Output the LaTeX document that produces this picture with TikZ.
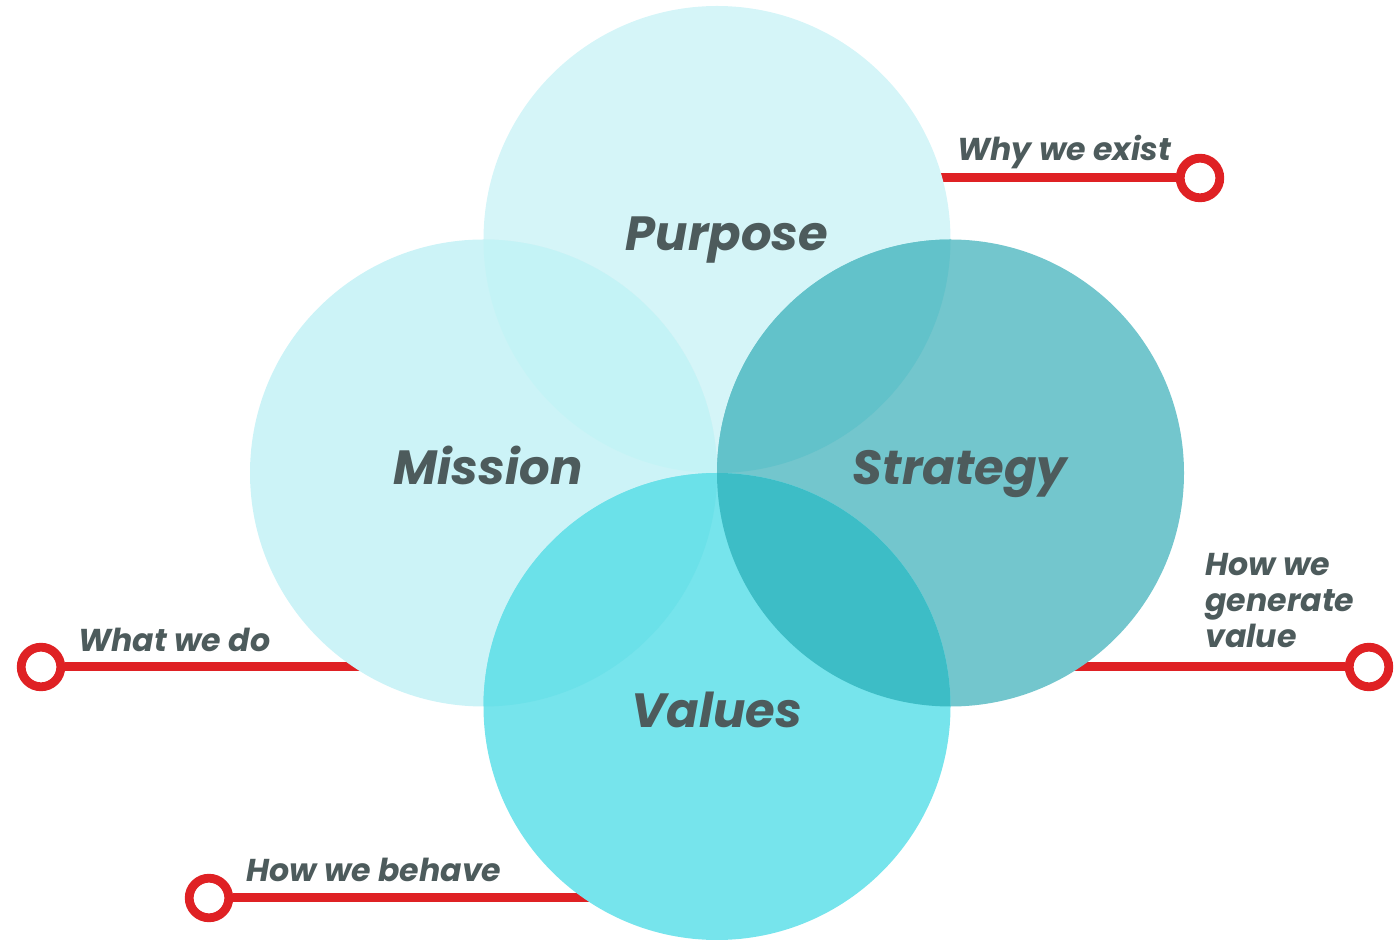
\documentclass[tikz,border=0pt]{standalone}
\usepackage{fontspec}
\setmainfont{Poppins}
\usetikzlibrary{positioning}

\definecolor{purposefill}{HTML}{D5F5F8}
\definecolor{missionfill}{HTML}{CCF3F7}
\definecolor{strategyfill}{HTML}{73C6CD}
\definecolor{valuesfill}{HTML}{76E4EC}
\definecolor{pmfill}{HTML}{C4F3F6}
\definecolor{psfill}{HTML}{62C2CA}
\definecolor{mvfill}{HTML}{6BE1E9}
\definecolor{svfill}{HTML}{3DBDC6}
\definecolor{slate}{HTML}{4D5B5C}
\definecolor{pinred}{HTML}{DF2124}

\begin{document}
\begin{tikzpicture}[x=0.5pt,y=-0.5pt,
				big/.style={font=\fontsize{24}{28}\selectfont\bfseries\itshape,text=slate,anchor=base,inner sep=0pt},
				tag/.style={font=\fontsize{15.8}{18}\selectfont\bfseries\itshape,text=slate,anchor=base west,inner sep=0pt},
				pin/.style={circle,draw=pinred,line width=4.4pt,fill=white,minimum size=19.8pt,inner sep=0pt},
				wire/.style={draw=pinred,line width=4.5pt}]
				\useasboundingbox (0,0) rectangle (1399,940);
				\coordinate (P) at (717,239.5);
				\coordinate (M) at (483.5,473);
				\coordinate (S) at (950.5,473);
				\coordinate (V) at (717,706.5);
				
				% pins with their leads, the circles cover the inner ends
				\node[pin] (WHYPIN)    at (1200,178) {};
				\node[pin] (WHATPIN)   at (41,667)   {};
				\node[pin] (HOWPIN)    at (1369,667) {};
				\node[pin] (BEHAVEPIN) at (209,898)  {};
				\coordinate (WHYEND)    at (900,178);
				\coordinate (WHATEND)   at (420,667);
				\coordinate (HOWEND)    at (1000,667);
				\coordinate (BEHAVEEND) at (650,898);
				\draw[wire] (WHYEND) -- (WHYPIN);
				\draw[wire] (WHATPIN) -- (WHATEND);
				\draw[wire] (HOWEND) -- (HOWPIN);
				\draw[wire] (BEHAVEPIN) -- (BEHAVEEND);
				
				% the four circles
				\fill[purposefill]  (P) circle (116.75pt);
				\fill[missionfill]  (M) circle (116.75pt);
				\fill[strategyfill] (S) circle (116.75pt);
				\fill[valuesfill]   (V) circle (116.75pt);
				% overlaps
				\begin{scope}
					\clip (P) circle (116.75pt);
					\fill[pmfill] (M) circle (116.75pt);
					\fill[psfill] (S) circle (116.75pt);
				\end{scope}
				\begin{scope}
					\clip (V) circle (116.75pt);
					\fill[mvfill] (M) circle (116.75pt);
					\fill[svfill] (S) circle (116.75pt);
				\end{scope}
				
				\node[big] (PURPOSE)  at (727,251) {Purpose};
				\node[big] (MISSION)  at (488,485) {Mission};
				\node[big] (STRATEGY) at (960,485) {Strategy};
				\node[big] (VALUES)   at (717,728) {Values};
				
				\node[tag] (WHY)    at (957,161)  {Why we exist};
				\node[tag] (WHAT)   at (78,652)   {What we do};
				\node[tag,align=left] (HOW) at (1205,648) {How we\\generate\\value};
				\node[tag] (BEHAVE) at (246,882)  {How we behave};
			\end{tikzpicture}
\end{document}
